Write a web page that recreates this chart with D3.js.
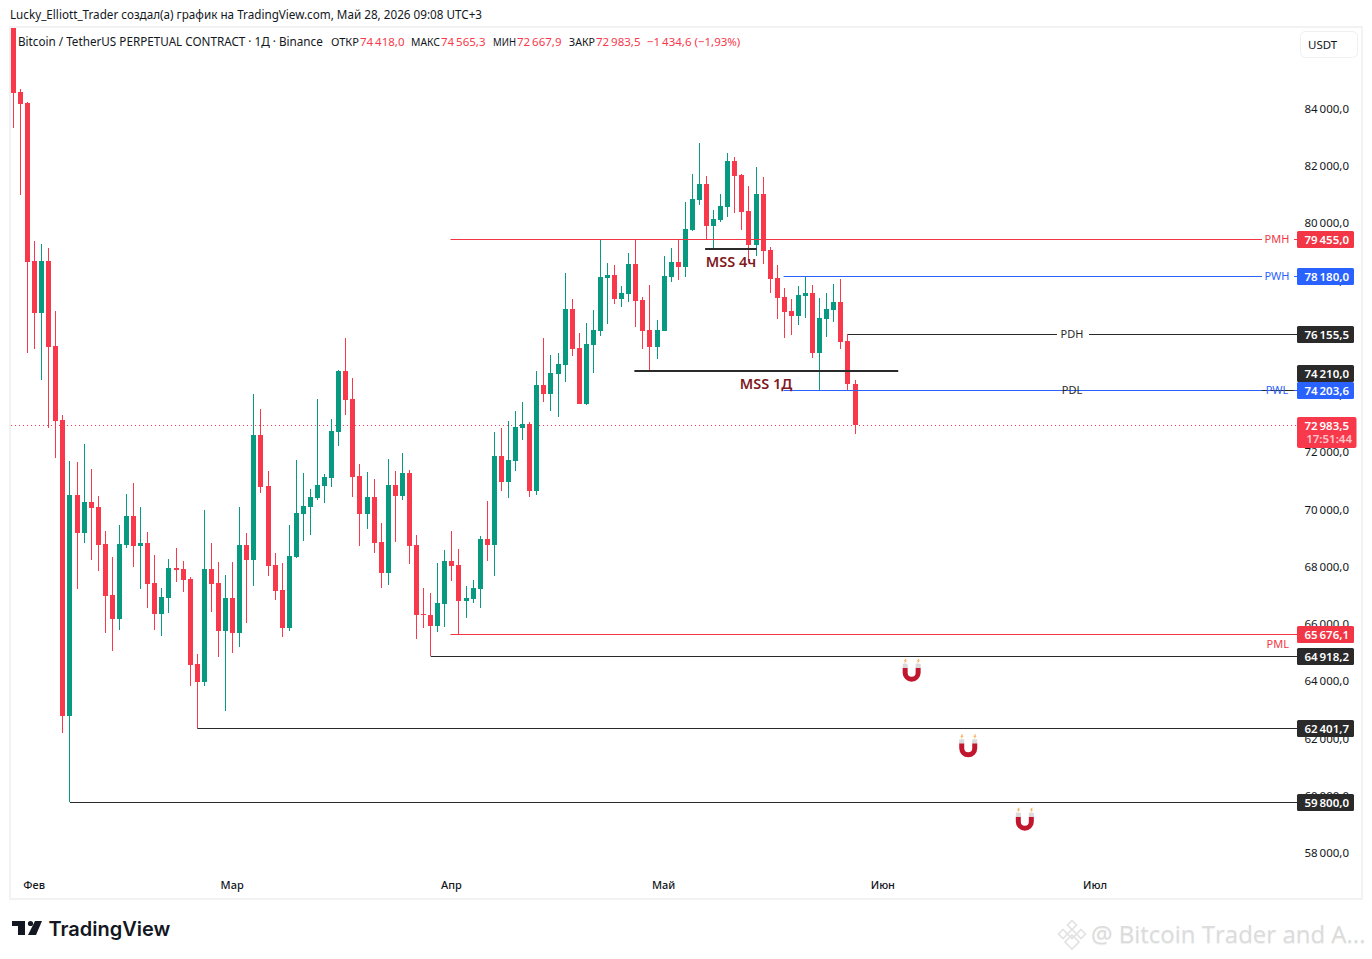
<!DOCTYPE html>
<html>
<head>
<meta charset="utf-8">
<script src="https://cdn.jsdelivr.net/npm/d3@7"></script>
<style>
    html, body { margin: 0; padding: 0; background: #fff; }
    svg { display: block; }
    text { font-family: "Noto Sans", sans-serif; fill: #131722; }
</style>
</head>
<body>
<div id="chart"></div>
<script>
// daily candles, first one is 3 days before Feb 1
var firstDay = -3;
var opens = [87000,84629,84240,78723,76906,78723,75752,73166,62822,70545,69217,70301,70126,68833,67051,66212,68798,69811,68763,68867,67470,66387,66946,67994,67959,67610,64639,64010,67959,67470,65793,66946,65723,68798,68274,72642,70860,68099,67225,65897,68379,69881,70126,70441,70860,71139,72747,74879,73900,71209,69881,70476,68902,67820,70895,70510,71314,68798,66387,66352,65967,66736,68239,68099,66841,66911,67260,69007,68798,71908,71000,71733,72887,73026,70685,74389,74075,74774,75088,77045,75682,73725,75787,76276,78129,78234,77395,77570,78618,77360,76311,75717,76276,78164,78688,78513,79806,80855,81414,79946,80156,80610,82218,81728,80470,79282,81064,79107,78129,77465,76976,76801,77500,77604,75508,76696,77010,77290,75927,74418];
var highs = [87300,84734,84280,79422,79317,79177,76976,73341,71733,71698,72327,71454,70510,69287,68379,69497,70580,70965,70126,69252,68448,67295,68309,68693,68239,67680,64989,70021,68867,68204,67749,68204,70126,69217,74075,73551,71384,68518,68169,69497,71768,71314,70755,73901,71279,73202,74914,76032,74634,71628,71349,71105,69567,71803,71384,72013,71419,69147,67295,67120,68169,68623,69287,68658,67365,67575,69112,70336,72747,72887,73131,73481,73795,73096,74879,76032,75438,75508,78303,77395,76207,76556,77010,79455,78653,78583,77849,79002,79455,77465,77884,76661,78897,79177,79457,80785,81763,82847,81693,80505,81065,82497,82357,81763,81344,82008,81658,79212,78583,77779,77395,77849,78180,77884,77430,77604,77919,78094,76155.5,74565.3];
var lows = [83371,81029,75508,75647,74564,72887,71838,62228,59800,67260,68867,68274,67889,65723,65094,65827,68693,68029,67260,66596,65827,65618,66421,67505,67155,63870,62401.7,63870,66456,64884,62996,65024,65234,66072,67365,70615,67715,66876,65583,65793,68344,68937,69147,70370,70266,70825,72258,73341,70476,68763,69357,68518,67295,67400,68902,70370,68134,65513,65897,64918.2,65757,65932,67540,65676.1,66247,66771,66596,68239,67715,70685,70441,71384,72467,70476,70545,73795,73481,73271,74494,75403,73725,73690,74809,76102,76521,77220,77115,77290,76416,75647,74879,75298,76276,77989,78059,78164,79771,80680,79492,79142,80086,80260,80400,79806,78723,78897,78618,77604,76696,76032,76137,76486,76731,75333,74214,76067,76591,75647,74210,72667.9];
var closes = [84594,84210,78688,76906,78723,75717,73131,62822,70545,69217,70301,70091,68798,67016,66212,68833,69811,68763,68867,67435,66387,66981,67994,67924,67575,64604,64010,67959,67435,65793,66946,65723,68798,68274,72642,70825,68064,67190,65897,68414,69916,70161,70476,70895,71174,72782,74879,73865,71174,69881,70476,68867,67820,70895,70510,71314,68763,66352,66352,65967,66771,68239,68064,66841,66946,67295,69007,68798,71908,71000,71768,72922,73026,70685,74389,74075,74809,75123,77045,75647,73725,75822,76311,78164,78234,77395,77604,78618,77325,76276,75717,76311,78199,78688,78513,79841,80890,81414,79946,80191,80645,82218,81693,80435,79282,81064,79072,78094,77430,76941,76801,77535,77604,75508,76731,77045,77290,75892,74418,72983.5];

var priceTicks = [58000,60000,62000,64000,66000,68000,70000,72000,74000,76000,78000,80000,82000,84000];
var monthDays = [0,28,59,89,120,150];
var monthNames = ["Фев","Мар","Апр","Май","Июн","Июл"];

// horizontal levels drawn on the chart
var levelNames = ["PMH","PWH","PDH","PDL","PWL","PML","","",""];
var levelPrices = [79455,78180,76155.5,74210,74203.6,65676.1,64918.2,62401.7,59800];
var levelStarts = [58.8,105.9,115,115,105.9,58.8,56,23,5];
var levelColors = ["#f23645","#2962ff","#2a2a2a","#2a2a2a","#2962ff","#f23645","#2a2a2a","#2a2a2a","#2a2a2a"];

var mssNames = ["MSS 4ч","MSS 1Д"];
var mssPrices = [79142,74879];
var mssStarts = [94.8,84.8];
var mssEnds = [102.1,122.1];

var magnetDays = [124,132,140];
var magnetPrices = [64335,61693,59128];

var legendNames = ["ОТКР","МАКС","МИН","ЗАКР"];
var legendValues = ["74\u202f418,0","74\u202f565,3","72\u202f667,9","72\u202f983,5"];
var legendChange = "−1\u202f434,6 (−1,93%)";

var width = 1372, height = 959;
var red = "#f7394b", green = "#089981";

var svg = d3.select("#chart").append("svg")
    .attr("width", width)
    .attr("height", height);

var x = d3.scaleLinear().domain([0, 150]).range([34.6, 1095.55]);
var y = d3.scaleLinear().domain([84000, 58000]).range([109.8, 854]);
var fmt = d3.formatLocale({decimal: ",", thousands: "\u202f", grouping: [3], currency: ["", ""]}).format(",.1f");

// snaps a value onto the pixel grid, so 1px lines stay sharp
function snap(v) { return Math.floor(v + 0.05) + 0.5; }

svg.append("text").attr("x", 10).attr("y", 19).attr("font-size", 11.7)
    .text("Lucky_Elliott_Trader создал(а) график на TradingView.com, Май 28, 2026 09:08 UTC+3");

// chart frame
svg.append("rect")
    .attr("x", 10).attr("y", 27)
    .attr("width", 1352).attr("height", 872)
    .attr("fill", "none").attr("stroke", "#f2f2f3").attr("stroke-width", 2);

svg.append("defs").append("clipPath").attr("id", "plot")
    .append("rect").attr("x", 11).attr("y", 28).attr("width", 1286).attr("height", 870);

var plot = svg.append("g").attr("clip-path", "url(#plot)");

// last price dotted line
var lastY = Math.round(y(closes[closes.length - 1])) + 0.5;
plot.append("line")
    .attr("x1", 11).attr("x2", 1297)
    .attr("y1", lastY).attr("y2", lastY)
    .attr("stroke", red).attr("stroke-dasharray", "1,3");

var candles = plot.selectAll(".candle").data(d3.range(opens.length)).enter().append("g")
    .attr("class", "candle")
    .attr("fill", function (i) { return closes[i] >= opens[i] ? green : red; });

candles.append("rect")
    .attr("x", function (i) { return Math.floor(x(i + firstDay)); })
    .attr("width", 1)
    .attr("y", function (i) { return Math.round(y(highs[i])); })
    .attr("height", function (i) { return Math.round(y(lows[i])) - Math.round(y(highs[i])); });

candles.append("rect")
    .attr("x", function (i) { return Math.floor(x(i + firstDay)) - 2; })
    .attr("width", 5)
    .attr("y", function (i) { return Math.round(y(Math.max(opens[i], closes[i]))); })
    .attr("height", function (i) {
        return Math.max(1, Math.round(y(Math.min(opens[i], closes[i]))) - Math.round(y(Math.max(opens[i], closes[i]))));
    });

// price axis
var yAxis = svg.append("g").attr("transform", "translate(1349,0)")
    .call(d3.axisLeft(y).tickValues(priceTicks).tickSize(0).tickPadding(0).tickFormat(fmt));
yAxis.select(".domain").remove();
yAxis.selectAll("text").attr("font-size", 11.5).attr("font-family", null).attr("y", -1);

// month axis
var xAxis = svg.append("g").attr("transform", "translate(-1,881)")
    .call(d3.axisBottom(x).tickValues(monthDays).tickSize(0).tickPadding(0)
        .tickFormat(function (d, i) { return monthNames[i]; }));
xAxis.select(".domain").remove();
xAxis.selectAll("text").attr("font-size", 11).attr("font-weight", 500);

// level lines, each one leaves a gap for its label
var labelX = {PMH: 1277, PWH: 1277, PWL: 1277, PDH: 1072, PDL: 1072};
levelPrices.forEach(function (p, i) {
    var name = levelNames[i], ly = snap(y(p)), start = x(levelStarts[i]);
    var lx = labelX[name];
    var segments = lx ? [[start, lx - 15], [lx + 17, 1297]] : [[start, 1297]];
    segments.forEach(function (s) {
        svg.append("line").attr("x1", s[0]).attr("x2", s[1]).attr("y1", ly).attr("y2", ly)
            .attr("stroke", levelColors[i]);
    });
});
levelPrices.forEach(function (p, i) {
    var name = levelNames[i], lx = labelX[name];
    if (name == "PML") {
        svg.append("text").attr("x", 1289).attr("y", y(p) + 14).attr("text-anchor", "end")
            .attr("font-size", 11).style("fill", levelColors[i]).text(name);
    } else if (lx) {
        svg.append("text").attr("x", lx).attr("y", y(p) + 3.5).attr("text-anchor", "middle")
            .attr("font-size", 11).style("fill", levelColors[i]).text(name);
    }
});

// market structure shift lines
mssPrices.forEach(function (p, i) {
    svg.append("line")
        .attr("x1", x(mssStarts[i])).attr("x2", x(mssEnds[i]))
        .attr("y1", Math.round(y(p))).attr("y2", Math.round(y(p)))
        .attr("stroke", "#2a2a2a").attr("stroke-width", 2);
    svg.append("text")
        .attr("x", (i == 0 ? 731 : 766)).attr("y", y(p) + 18.5)
        .attr("text-anchor", "middle").attr("font-size", 14.5).attr("font-weight", 600)
        .style("fill", "#801922").text(mssNames[i]);
});

// price tags on the scale, tags on the same spot get pushed up
var tagH = 17;
var tagTaken = [];
levelPrices.map(function (p, i) { return i; }).sort(function (a, b) { return levelPrices[a] - levelPrices[b]; })
    .forEach(function (i) {
        var cy = y(levelPrices[i]);
        tagTaken.forEach(function (t) { if (Math.abs(t - cy) < tagH - 1) cy = t - tagH; });
        tagTaken.push(cy);
        var tag = svg.append("g").attr("transform", "translate(1297," + (Math.floor(cy + 0.05) - 8) + ")");
        tag.append("rect").attr("width", 57).attr("height", tagH).attr("rx", 1.5).attr("fill", levelColors[i]);
        tag.append("text").attr("x", 52).attr("y", 12.5).attr("text-anchor", "end")
            .attr("font-size", 11.5).attr("font-weight", 600).style("fill", "#fff").text(fmt(levelPrices[i]));
    });

var last = svg.append("g").attr("transform", "translate(1297," + (Math.round(y(closes[closes.length - 1])) - 8) + ")");
last.append("rect").attr("width", 59.5).attr("height", 31).attr("rx", 2).attr("fill", red);
last.append("text").attr("x", 52).attr("y", 12.5).attr("text-anchor", "end")
    .attr("font-size", 11.5).attr("font-weight", 600).style("fill", "#fff").text(fmt(closes[closes.length - 1]));
last.append("text").attr("x", 55).attr("y", 26).attr("text-anchor", "end")
    .attr("font-size", 11.5).attr("font-weight", 600).style("fill", "#fff").attr("opacity", 0.7).text("17:51:44");

// USDT button
svg.append("rect").attr("x", 1300.5).attr("y", 31.5).attr("width", 57).attr("height", 26).attr("rx", 5)
    .attr("fill", "#fff").attr("stroke", "#f0f0f0");
svg.append("text").attr("x", 1308).attr("y", 49).attr("font-size", 11.5).text("USDT");

// legend
svg.append("text").attr("x", 18).attr("y", 46).attr("font-size", 11.7)
    .text("Bitcoin / TetherUS PERPETUAL CONTRACT · 1Д · Binance");
var legendNameX = [331, 411, 493, 569];
var legendNameW = [28, 29, 23, 26];
var legendValueX = [360, 441, 517, 596];
legendNames.forEach(function (n, i) {
    svg.append("text").attr("x", legendNameX[i]).attr("y", 46).attr("font-size", 11.5)
        .attr("textLength", legendNameW[i]).attr("lengthAdjust", "spacingAndGlyphs").text(n);
    svg.append("text").attr("x", legendValueX[i]).attr("y", 46).attr("font-size", 11.5).style("fill", red).text(legendValues[i]);
});
svg.append("text").attr("x", 647).attr("y", 46).attr("font-size", 11.5).style("fill", red).text(legendChange);

// magnets
magnetDays.forEach(function (d, i) {
    var m = svg.append("g").attr("transform", "translate(" + x(d) + "," + y(magnetPrices[i]) + ")");
    m.append("path").attr("d", "M-6.5,-5L-6.5,0A6.5,6.5 0 0 0 6.5,0L6.5,-5")
        .attr("fill", "none").attr("stroke", "#c0172f").attr("stroke-width", 5);
    [-9, 4].forEach(function (tx) {
        m.append("rect").attr("x", tx).attr("y", -9).attr("width", 5).attr("height", 4).attr("fill", "#d9d9d9");
        m.append("path").attr("d", "M" + (tx + 3) + ",-14l-2,2.5h1.6l-1.2,2.5l3,-3h-1.6l1.2,-2z").attr("fill", "#f9a94b");
    });
});

// TradingView logo
var logo = svg.append("g").attr("fill", "#131722");
logo.append("path").attr("d", "M12,921H25V935H18V926H12Z");
logo.append("circle").attr("cx", 30.5).attr("cy", 923.5).attr("r", 2.6);
logo.append("path").attr("d", "M35,921H42L36,935H28Z");
svg.append("text").attr("x", 48.5).attr("y", 936).attr("font-size", 20).attr("font-weight", 600)
    .style("font-family", "Inter").text("TradingView");

// watermark
var wm = svg.append("g").attr("fill", "none").attr("stroke", "#e2e2e2").attr("stroke-width", 1.6);
[[0, -9], [-9, 0], [9, 0], [0, 0], [0, 8]].forEach(function (c) {
    var s = c[1] == 8 ? 7 : 4.5;
    wm.append("path").attr("transform", "translate(" + (1072 + c[0]) + "," + (934 + c[1]) + ")")
        .attr("d", "M0," + (-s) + "L" + s + ",0L0," + s + "L" + (-s) + ",0Z");
});
svg.append("text").attr("x", 1091).attr("y", 943).attr("font-size", 24)
    .style("fill", "#dcdcdc").style("font-family", "Open Sans")
    .style("text-shadow", "0 1px 1px #eee")
    .text("@ Bitcoin Trader and A...");
</script>
</body>
</html>
